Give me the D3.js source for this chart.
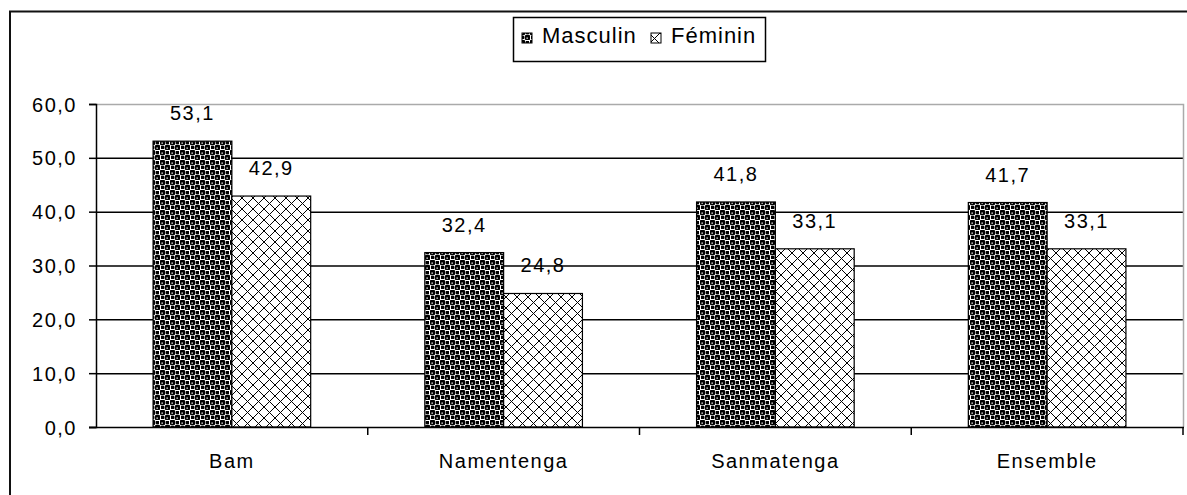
<!DOCTYPE html>
<html><head><meta charset="utf-8">
<script src="https://cdn.jsdelivr.net/npm/d3@7"></script>
<style>
body{margin:0;background:#fff;}
svg text{font-family:"Liberation Sans",Arial,sans-serif;fill:#000;}
</style></head>
<body><svg id="c" width="1187" height="495"></svg>
<script>
const categories = ["Bam","Namentenga","Sanmatenga","Ensemble"];
const seriesNames = ["Masculin","Féminin"];
const masculin = [53.1,32.4,41.8,41.7];
const feminin = [42.9,24.8,33.1,33.1];
const yTicks = [0,10,20,30,40,50,60];

const svg = d3.select("#c");
const defs = svg.append("defs");
// Masculin pattern: black balls on a checker
const pm = defs.append("pattern").attr("id","pm").attr("patternUnits","userSpaceOnUse").attr("width",10).attr("height",10);
pm.append("rect").attr("width",10).attr("height",10).attr("fill","#fff");
pm.append("circle").attr("cx",2.5).attr("cy",2.5).attr("r",3).attr("fill","#000");
pm.append("circle").attr("cx",7.5).attr("cy",7.5).attr("r",3).attr("fill","#000");
pm.append("rect").attr("x",6).attr("y",1).attr("width",3).attr("height",3).attr("fill","#000");
pm.append("rect").attr("x",1).attr("y",6).attr("width",3).attr("height",3).attr("fill","#000");
pm.append("rect").attr("x",1.5).attr("y",2.5).attr("width",1.3).attr("height",1.3).attr("fill","#fff");
pm.append("rect").attr("x",6.5).attr("y",7.5).attr("width",1.3).attr("height",1.3).attr("fill","#fff");
// Feminin pattern: diagonal crosshatch
const pf = defs.append("pattern").attr("id","pf").attr("patternUnits","userSpaceOnUse").attr("width",11).attr("height",11);
pf.append("rect").attr("width",11).attr("height",11).attr("fill","#fff");
pf.append("path").attr("d","M0,0L11,11M11,0L0,11").attr("stroke","#000").attr("stroke-width",1);
const fills = ["url(#pm)","url(#pf)"];

const pL = 96, pR = 1183, pT = 104, pB = 427;
const y = d3.scaleLinear().domain([0,60]).range([pB,pT]);
const x0 = d3.scaleBand().domain(categories).range([pL,pR]).paddingInner(0.42).paddingOuter(0.21);
const x1 = d3.scaleBand().domain(seriesNames).range([0,x0.bandwidth()]);
const xb = d3.scaleBand().domain(categories).range([pL,pR]);

// outer frame
svg.append("path").attr("d","M10,500V11.5H1190").attr("fill","none").attr("stroke","#111").attr("stroke-width",2);

// gridlines
const grid = svg.append("g");
yTicks.filter(t=>t>0 && t<60).forEach(t=>{
  grid.append("line").attr("x1",pL).attr("x2",pR).attr("y1",y(t)+0.5).attr("y2",y(t)+0.5).attr("stroke","#000").attr("stroke-width",1.5);
});
// plot border top/right gray
svg.append("path").attr("d",`M${pL},${y(60)+0.5}H${pR+0.5}V${pB}`).attr("fill","none").attr("stroke","#aaa").attr("stroke-width",1.5);

// y axis
const yAxis = d3.axisLeft(y).tickValues(yTicks).tickSize(7).tickPadding(12).tickFormat(d=>d3.format(".1f")(d).replace(".",","));
const ga = svg.append("g").attr("transform",`translate(${pL},0)`).call(yAxis);
ga.select(".domain").attr("stroke","#000").attr("stroke-width",1.5);
ga.selectAll(".tick line").attr("stroke","#000").attr("stroke-width",1.5);
ga.selectAll("text").style("font-size","20px").style("letter-spacing","1.5px").attr("fill","#000").attr("dy","0.35em");

// bars
const data = categories.map((c,i)=>({c, vals:[masculin[i],feminin[i]]}));
const gb = svg.append("g");
data.forEach(d=>{
  d.vals.forEach((v,j)=>{
    const bx = x0(d.c)+x1(seriesNames[j]);
    gb.append("rect").attr("x",bx).attr("y",y(v)).attr("width",x1.bandwidth()).attr("height",y(0)-y(v))
      .attr("fill",fills[j]).attr("stroke","#000").attr("stroke-width",1.2);
    gb.append("text").attr("x",bx+x1.bandwidth()/2).attr("y",y(v)-21).attr("text-anchor","middle")
      .style("font-size","20px").style("letter-spacing","1.5px").text(d3.format(".1f")(v).replace(".",","));
  });
});

// x axis
const gx = svg.append("g").attr("transform",`translate(0,${pB})`);
gx.append("line").attr("x1",pL-7).attr("x2",pR+1).attr("y1",0.5).attr("y2",0.5).attr("stroke","#000").attr("stroke-width",1.5);
categories.forEach((c,i)=>{
  const xt = xb(c)+xb.bandwidth();
  gx.append("line").attr("x1",xt).attr("x2",xt).attr("y1",0).attr("y2",8).attr("stroke","#000").attr("stroke-width",1.5);
  gx.append("text").attr("x",xb(c)+xb.bandwidth()/2).attr("y",41).attr("text-anchor","middle")
    .style("font-size","20px").style("letter-spacing","1.5px").text(c);
});

// legend
const lg = svg.append("g");
lg.append("rect").attr("x",513.5).attr("y",17.5).attr("width",252).attr("height",44).attr("fill","#fff").attr("stroke","#000").attr("stroke-width",1.5);
const legX = [522,651];
seriesNames.forEach((s,j)=>{
  lg.append("rect").attr("x",legX[j]).attr("y",33).attr("width",10).attr("height",10).attr("fill",fills[j]).attr("stroke","#000").attr("stroke-width",1);
  lg.append("text").attr("x",legX[j]+20).attr("y",43).style("font-size","22px").style("letter-spacing","1px").text(s);
});
</script></body></html>
